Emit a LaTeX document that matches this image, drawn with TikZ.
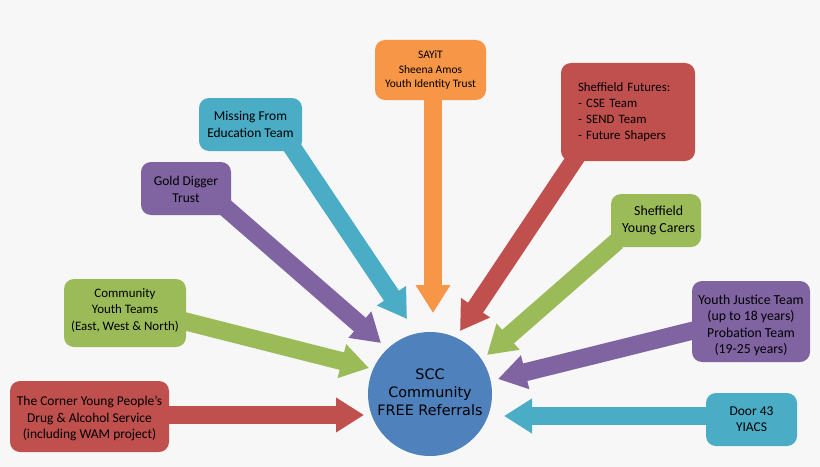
\documentclass[tikz,border=0pt]{standalone}
\usepackage{fontspec}
\setmainfont{Carlito}
\newfontfamily\hubfont{DejaVu Sans}
\usetikzlibrary{arrows.meta,backgrounds}
\definecolor{pagegrey}{HTML}{F7F7F7}
\definecolor{sccred}{HTML}{C0504D}
\definecolor{sccgreen}{HTML}{9BBB59}
\definecolor{sccpurple}{HTML}{8064A2}
\definecolor{sccteal}{HTML}{4BACC6}
\definecolor{sccorange}{HTML}{F79646}
\definecolor{sccblue}{HTML}{4F81BD}
\tikzset{
  box/.style={rectangle,rounded corners=7.5pt,inner sep=0pt,outer sep=0pt,align=center,font=\fontsize{10.1}{12.2}\selectfont},
  flow/.style={line width=13.5pt,shorten <=-6pt,-{Triangle[length=21pt,width=24.75pt]}}
}
\begin{document}
\begin{tikzpicture}[x=0.75pt,y=-0.75pt]

	% the outer boxes
	\node[box,fill=sccred,minimum width=119.25pt,minimum height=53.25pt] (corner) at (89.5,416.5) {\rule{0pt}{10pt}The Corner Young People's\\Drug \& Alcohol Service\\(including WAM project)};
	\node[box,fill=sccgreen,minimum width=91.5pt,minimum height=51pt,font=\fontsize{9.7}{12.2}\selectfont] (youth) at (125,313) {Community\\Youth Teams\\(East, West \& North)\rule[-5.5pt]{0pt}{0pt}};
	\node[box,fill=sccpurple,minimum width=67.5pt,minimum height=39.75pt] (gold) at (186,188.5) {\rule{0pt}{8.5pt}Gold Digger\\Trust};
	\node[box,fill=sccteal,minimum width=77.25pt,minimum height=39.75pt] (missing) at (250.5,124.5) {Missing From\\Education Team};
	\node[box,fill=sccorange,minimum width=83.25pt,minimum height=45pt,font=\fontsize{8.6}{11}\selectfont] (sayit) at (430.5,70) {SAYiT\\Sheena Amos\\Youth Identity Trust};
	\node[box,fill=sccred,minimum width=100.5pt,minimum height=73.5pt,text width=75pt,align=left,font=\fontsize{9.6}{12.2}\selectfont] (futures) at (628,112) {Sheffield Futures:\\- CSE Team\\- SEND Team\\- Future Shapers};
	\node[box,fill=sccgreen,minimum width=67.5pt,minimum height=39.75pt,font=\fontsize{10.4}{12.4}\selectfont] (carers) at (656,220.5) {\hspace*{4pt}Sheffield\\\hspace*{4pt}Young Carers};
	\node[box,fill=sccpurple,minimum width=88.5pt,minimum height=60.75pt,font=\fontsize{10.3}{12.2}\selectfont] (justice) at (751,321.5) {\rule{0pt}{13pt}Youth Justice Team\\(up to 18 years)\\Probation Team\\(19-25 years)};
	\node[box,fill=sccteal,minimum width=68.25pt,minimum height=39.75pt] (door) at (751.5,419.5) {Door 43\\YIACS};

	% centre circle
	\node[circle,fill=sccblue,minimum size=93pt,inner sep=0pt,align=center,font=\hubfont\fontsize{10.8}{13.5}\selectfont] (scc) at (430,394) {SCC\\Community\\FREE Referrals\rule[-2.5pt]{0pt}{0pt}};

	% where the arrows stop
	\coordinate (tipcorner) at (364,415);
	\coordinate (tipyouth) at (369,368);
	\coordinate (tipgold) at (381,343);
	\coordinate (tipmissing) at (407,319);
	\coordinate (tipsayit) at (433,313);
	\coordinate (tipfutures) at (460,331);
	\coordinate (tipcarers) at (487,355);
	\coordinate (tipjustice) at (498,379);
	\coordinate (tipdoor) at (504,416);

	\begin{scope}[on background layer]
	\fill[pagegrey] (0,0) rectangle (820,467);
	\draw[flow,sccred] (corner.east |- tipcorner) -- (tipcorner);
	\draw[flow,sccgreen] (youth.-8) -- (tipyouth);
	\draw[flow,sccpurple] (gold.-28) -- (tipgold);
	\draw[flow,sccteal] (missing.-31) -- (tipmissing);
	\draw[flow,sccorange] (sayit.south -| tipsayit) -- (tipsayit);
	\draw[flow,sccred] (futures.222) -- (tipfutures);
	\draw[flow,sccgreen] (carers.210) -- (tipcarers);
	\draw[flow,sccpurple] (justice.189) -- (tipjustice);
	\draw[flow,sccteal] (door.west |- tipdoor) -- (tipdoor);
	\end{scope}

\end{tikzpicture}
\end{document}
